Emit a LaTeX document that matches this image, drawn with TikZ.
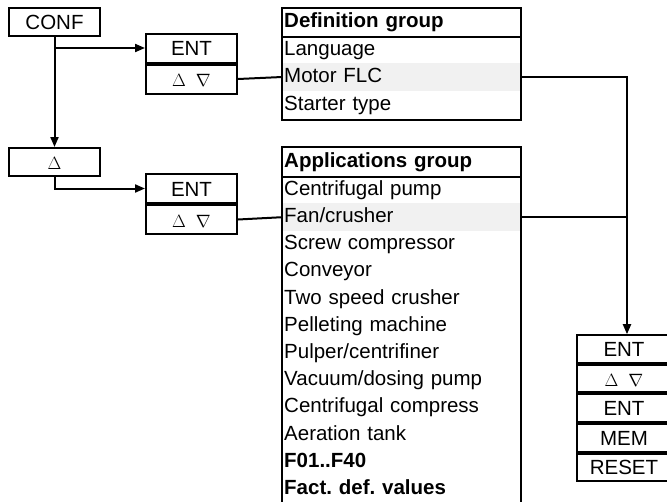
\documentclass[tikz,border=0pt]{standalone}
\usepackage{fontspec}
\setmainfont{Liberation Sans}
\usetikzlibrary{arrows.meta,positioning}
\definecolor{rowGray}{RGB}{241,241,241}
\newcommand{\boxfont}{\fontsize{20.5}{24}\selectfont}
\newcommand{\keyUp}{\scalebox{0.86}{$\Delta$}}
\newcommand{\keyUpDown}{\scalebox{0.86}{$\Delta$}\hspace{10pt}\scalebox{0.86}{$\nabla$}}
\frenchspacing

\begin{document}
\begin{tikzpicture}[x=1pt, y=-1pt,
    key/.style={draw, line width=2pt, minimum width=91pt, minimum height=29pt,
      inner sep=0pt, font=\boxfont, text height=15pt, text depth=0pt},
    item/.style={anchor=west, minimum width=239pt, text width=235pt, inner xsep=2pt,
      inner ysep=0pt, minimum height=28pt, align=left, font=\boxfont,
      text height=15pt, text depth=4.5pt},
    head/.style={item, font=\boxfont\bfseries, minimum height=29pt},
    link/.style={line width=2pt},
    arr/.style={link, -{Triangle[length=10pt,width=8pt]}}]
  \useasboundingbox (0,0) rectangle (667,501);
  % Keys on the left
  \node[key, minimum height=28pt] (conf) at (54.5,22) {CONF};
  \node[key, minimum height=28pt] (delta) at (54.5,162) {\keyUp};
  \node[key] (ent1) at (191.5,48) {ENT};
  \node[key, below=0pt of ent1] (ud1) {\keyUpDown};
  \node[key] (ent2) at (191.5,188.5) {ENT};
  \node[key, below=0pt of ent2] (ud2) {\keyUpDown};
  % Definition group
  \node[head] (defHead) at (282,22.5) {Definition group};
  \node[item] (language) at (282,50) {Language};
  \node[item, fill=rowGray] (motor) at (282,77) {Motor FLC};
  \node[item] (starter) at (282,105.5) {Starter type};
  \draw[link] (defHead.north west) rectangle (starter.south east);
  \draw[link] (defHead.south west) -- (defHead.south east);
  % Applications group
  \node[head] (appHead) at (282,162) {Applications group};
  \node[item] (pump) at (282,190) {Centrifugal pump};
  \node[item, fill=rowGray] (fan) at (282,217.2) {Fan/crusher};
  \node[item] (screw) at (282,244.4) {Screw compressor};
  \node[item] (conveyor) at (282,271.6) {Conveyor};
  \node[item] (twospeed) at (282,298.8) {Two speed crusher};
  \node[item] (pellet) at (282,326) {Pelleting machine};
  \node[item] (pulper) at (282,353.2) {Pulper/centrifiner};
  \node[item] (vacuum) at (282,380.4) {Vacuum/dosing pump};
  \node[item] (compress) at (282,407.6) {Centrifugal compress};
  \node[item] (aeration) at (282,434.8) {Aeration tank};
  \node[item, font=\boxfont\bfseries] (fparams) at (282,462) {F01..F40};
  \node[item, font=\boxfont\bfseries] (factdef) at (282,489.2) {Fact. def. values};
  \draw[link] (appHead.north west) rectangle (factdef.south east);
  \draw[link] (appHead.south west) -- (appHead.south east);
  % Keys on the right
  \node[key, minimum width=94pt, minimum height=27.6pt] (sEnt) at (624,349) {ENT};
  \node[key, minimum width=94pt, minimum height=27.6pt, below=0pt of sEnt] (sUd) {\keyUpDown};
  \node[key, minimum width=94pt, minimum height=27.6pt, below=0pt of sUd] (sEnt2) {ENT};
  \node[key, minimum width=94pt, minimum height=27.6pt, below=0pt of sEnt2] (sMem) {MEM};
  \node[key, minimum width=94pt, minimum height=27.6pt, below=0pt of sMem] (sReset) {RESET};
  \coordinate (drop) at ([xshift=3pt]sEnt.north);
  % Connectors
  \draw[arr] (conf.south) -- (delta.north);
  \draw[arr] (conf.south |- ent1.west) -- (ent1.west);
  \draw[arr] (delta.south) |- (ent2.west);
  \draw[link] (ud1.east) -- (motor.west);
  \draw[link] (ud2.east) -- (fan.west);
  \draw[arr] (motor.east) -| (drop);
  \draw[link] (fan.east) -- (fan.east -| drop);
\end{tikzpicture}
\end{document}
